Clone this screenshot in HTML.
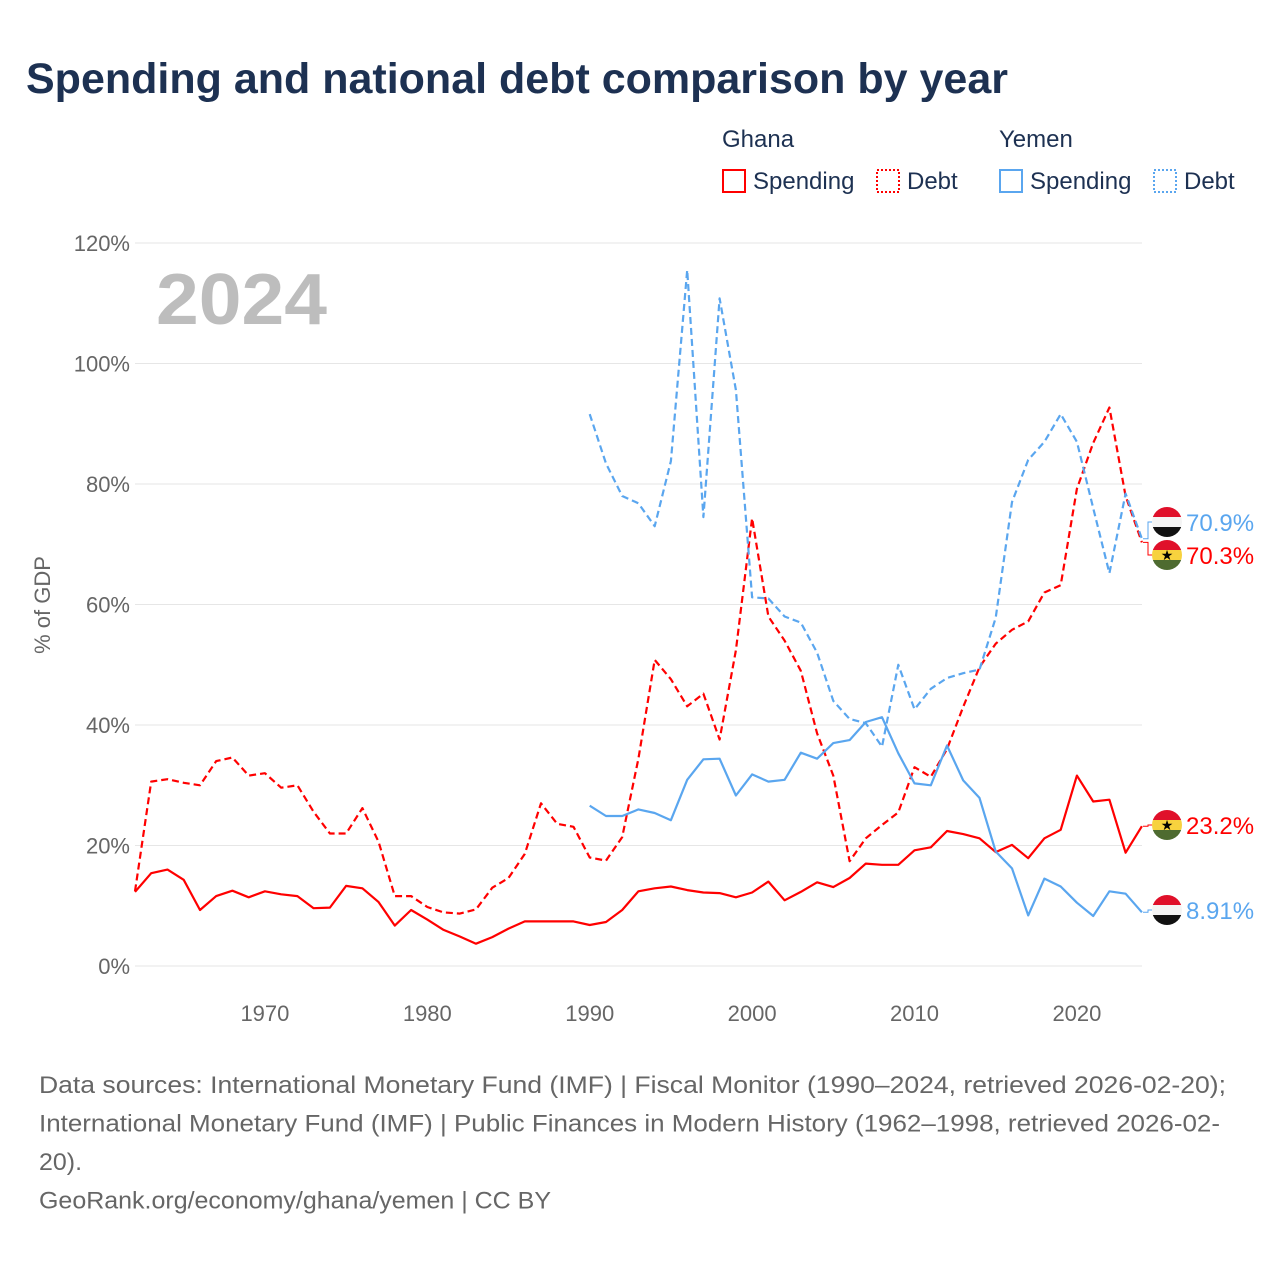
<!DOCTYPE html>
<html><head><meta charset="utf-8">
<style>
body{margin:0;background:#fff;font-family:"Liberation Sans",sans-serif;}
#wrap{position:relative;width:1280px;height:1280px;overflow:hidden;}
</style></head>
<body><div id="wrap">
<svg id="chart" width="1280" height="1280" font-family="Liberation Sans, sans-serif"></svg>
</div>
<script>
const ghanaSpending=[12.3,15.4,16.0,14.3,9.3,11.6,12.5,11.4,12.4,11.9,11.6,9.6,9.7,13.3,12.9,10.6,6.7,9.3,7.7,6.0,4.9,3.7,4.8,6.2,7.4,7.4,7.4,7.4,6.8,7.3,9.3,12.4,12.9,13.2,12.6,12.2,12.1,11.4,12.2,14.0,10.9,12.3,13.9,13.1,14.6,17.0,16.8,16.8,19.2,19.7,22.4,21.9,21.2,18.9,20.1,17.9,21.2,22.6,31.6,27.3,27.6,18.8,23.2];
const ghanaDebt=[12.4,30.6,31.0,30.4,30.0,34.0,34.6,31.6,32.0,29.6,30.0,25.6,22.0,22.0,26.2,20.6,11.6,11.6,9.8,8.9,8.7,9.4,13.0,14.6,18.6,27.0,23.6,23.1,18.0,17.5,21.4,34.4,50.8,47.6,43.1,45.2,37.6,52.4,74.3,58.0,54.0,49.0,38.6,31.6,17.4,21.2,23.4,25.5,33.0,31.4,36.0,43.0,49.6,53.5,55.8,57.2,62.0,63.2,79.2,86.8,92.7,78.0,70.3];
const yemenSpending=[26.6,24.9,24.9,26.0,25.4,24.2,30.9,34.3,34.4,28.3,31.8,30.6,30.9,35.4,34.4,37.0,37.5,40.5,41.3,35.3,30.3,30.0,36.6,30.8,27.9,19.0,16.2,8.4,14.5,13.2,10.5,8.3,12.4,12.0,8.91];
const yemenDebt=[91.6,83.4,78.0,76.8,73.0,83.8,115.5,74.5,110.8,95.6,61.2,61.0,58.0,57.0,52.0,44.0,41.0,40.3,36.4,50.0,42.6,46.0,47.8,48.6,49.2,57.8,77.0,84.0,87.0,91.6,87.0,76.0,65.2,78.4,70.9];
const yTicks=[0,20,40,60,80,100,120];
const xTicks=[1970,1980,1990,2000,2010,2020];

const NS="http://www.w3.org/2000/svg";
const svg=document.getElementById('chart');
const X=y=>135+(y-1962)*16.24;
const Y=v=>966-v*6.025;
function mk(t,a,p){const e=document.createElementNS(NS,t);for(const k in a)e.setAttribute(k,a[k]);(p||svg).appendChild(e);return e;}

let t=mk('text',{x:26,y:93,'font-size':43,'font-weight':'bold',fill:'#1d3152'});t.textContent='Spending and national debt comparison by year';


function legText(x,y,s,c,name){const e=mk('text',{x:x,y:y,'font-size':24,fill:c||'#1d3152'});e.textContent=s;}
legText(722,147,'Ghana','#1d3152','legend-group-ghana');
legText(999,147,'Yemen','#1d3152','legend-group-yemen');
const legs=[[722,'Spending','red',null,'legend-ghana-spending'],[876,'Debt','red','2 2','legend-ghana-debt'],[999,'Spending','#5aa6ef',null,'legend-yemen-spending'],[1153,'Debt','#5aa6ef','2 2','legend-yemen-debt']];
legs.forEach(l=>{const g=mk('g',{});
mk('rect',Object.assign({x:l[0]+1,y:170,width:22,height:22,fill:'none',stroke:l[2],'stroke-width':2},l[3]?{'stroke-dasharray':l[3]}:{}),g);
const e=mk('text',{x:l[0]+31,y:189,'font-size':24,fill:'#1d3152'},g);e.textContent=l[1];});

yTicks.forEach(v=>{const l=mk('line',{x1:135,x2:1142,y1:Y(v),y2:Y(v),stroke:'#e6e6e6','stroke-width':1});

const e=mk('text',{x:130,y:Y(v)+8,'font-size':22,fill:'#666','text-anchor':'end'});e.textContent=v+'%';
});
xTicks.forEach(y=>{const e=mk('text',{x:X(y),y:1021,'font-size':22,fill:'#666','text-anchor':'middle'});e.textContent=y;
});
t=mk('text',{x:0,y:0,'font-size':22,fill:'#666','text-anchor':'middle',transform:'translate(50,605) rotate(-90)'});t.textContent='% of GDP';

t=mk('text',{x:156,y:324,'font-size':72,'font-weight':'bold',fill:'#bdbdbd',textLength:171,lengthAdjust:'spacingAndGlyphs'});t.textContent='2024';


function line(vals,start,color,dash,name){const d=vals.map((v,i)=>(i?'L':'M')+X(start+i).toFixed(1)+','+Y(v).toFixed(1)).join('');
const p=mk('path',Object.assign({d:d,fill:'none',stroke:color,'stroke-width':2.2,'stroke-linejoin':'round'},dash?{'stroke-dasharray':dash}:{}));
}
line(ghanaSpending,1962,'red',null,'ghana-spending-line');
line(ghanaDebt,1962,'red','7 4','ghana-debt-line');
line(yemenSpending,1990,'#5aa6ef',null,'yemen-spending-line');
line(yemenDebt,1990,'#5aa6ef','7 4','yemen-debt-line');

let fi=0;
function flag(cx,cy,kind,name){const g=mk('g',{});
const id='flagclip'+(fi++);const cp=mk('clipPath',{id:id},g);mk('circle',{cx:cx,cy:cy,r:15},cp);
const cols=kind==='ghana'?['#e0102a','#f7d23e','#4e6b30']:['#e0102a','#f4f4f4','#111'];
cols.forEach((c,i)=>mk('rect',{x:cx-15,y:cy-15+i*10,width:30,height:10,fill:c,'clip-path':'url(#'+id+')'},g));
if(kind==='ghana'){const s=mk('text',{x:cx,y:cy+5,'font-size':14,'text-anchor':'middle',fill:'#000'},g);s.textContent='★';}}
function endLabel(val,ly,color,kind,txt,name){const ey=Y(val);
const c=mk('path',{d:'M1143,'+ey.toFixed(1)+'H1148V'+ly+'H1152',fill:'none',stroke:color,'stroke-width':1});

flag(1167,ly,kind,name+'-flag');
const e=mk('text',{x:1186,y:ly+9,'font-size':24,fill:color});e.textContent=txt;}
endLabel(yemenDebt[yemenDebt.length-1],522,'#5aa6ef','yemen','70.9%','label-yemen-debt');
endLabel(ghanaDebt[ghanaDebt.length-1],555,'red','ghana','70.3%','label-ghana-debt');
endLabel(ghanaSpending[ghanaSpending.length-1],825,'red','ghana','23.2%','label-ghana-spending');
endLabel(yemenSpending[yemenSpending.length-1],910,'#5aa6ef','yemen','8.91%','label-yemen-spending');

const foot=['Data sources: International Monetary Fund (IMF) | Fiscal Monitor (1990–2024, retrieved 2026-02-20);','International Monetary Fund (IMF) | Public Finances in Modern History (1962–1998, retrieved 2026-02-','20).','GeoRank.org/economy/ghana/yemen | CC BY'];
const footW=[1187,1181,43,512];
foot.forEach((s,i)=>{const e=mk('text',{x:39,y:1093+i*38.5,'font-size':24,fill:'#666',textLength:footW[i],lengthAdjust:'spacingAndGlyphs'});e.textContent=s;
});
</script></body></html>
